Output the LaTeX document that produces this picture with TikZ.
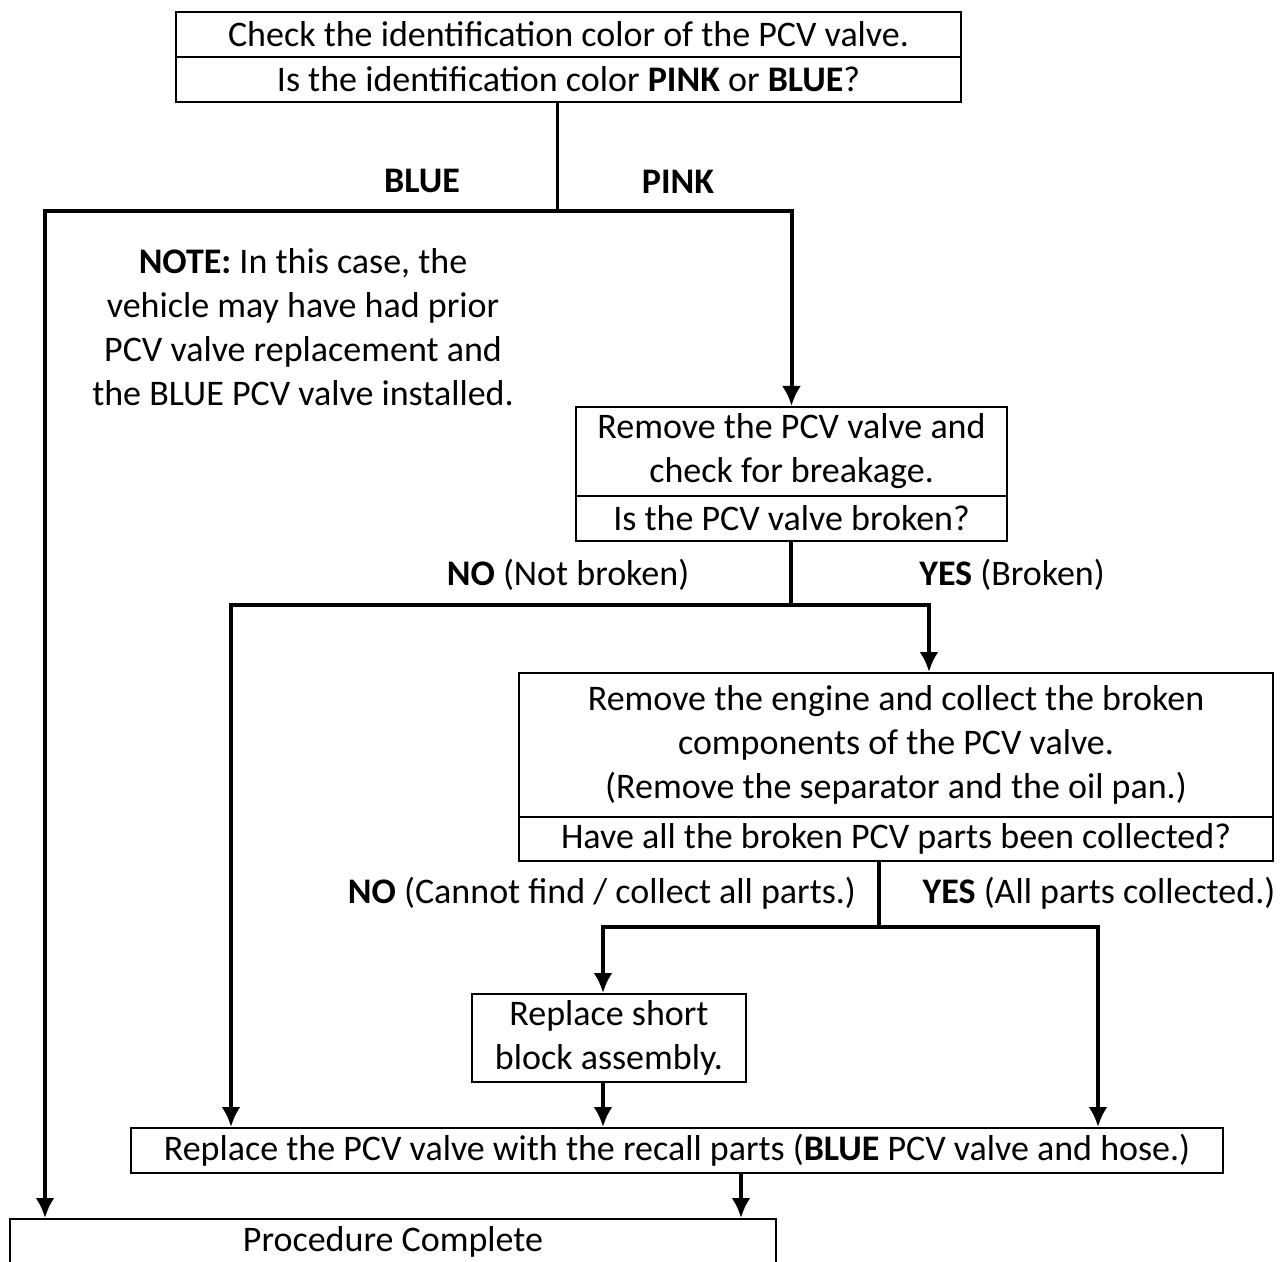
\documentclass[tikz,border=0pt]{standalone}
\usepackage{fontspec}
\setmainfont{Carlito}
\usetikzlibrary{arrows.meta}
\tikzset{
  box/.style={draw, line width=1bp, inner sep=0pt, align=center},
  flow/.style={line width=2bp},
  lbl/.style={inner sep=0pt, align=center},
}
\begin{document}
\begin{tikzpicture}[x=0.5bp,y=-0.5bp,>={Latex[length=10bp,width=9.5bp]},line join=miter,
  font=\fontsize{18bp}{22bp}\selectfont]
\clip (0,0) rectangle (1286,1262);
\useasboundingbox (0,0) rectangle (1286,1262);
%%
  % Node: check
  \node[box, minimum width=392.5bp, minimum height=22.5bp] (check) at (568.5,34.5) {Check the identification color of the PCV valve.};
  % Node: color
  \node[box, minimum width=392.5bp, minimum height=22.5bp] (color) at (568.5,79.5) {Is the identification color \textbf{PINK} or \textbf{BLUE}?};
  % Node: remove
  \node[box, minimum width=215.5bp, minimum height=44.5bp] (remove) at (791.5,451.5) {Remove the PCV valve and\\check for breakage.};
  % Node: broken
  \node[box, minimum width=215.5bp, minimum height=22.5bp] (broken) at (791.5,518.5) {Is the PCV valve broken?};
  % Node: engine
  \node[box, minimum width=377bp, minimum height=72bp] (engine) at (896,745) {Remove the engine and collect the broken\\components of the PCV valve.\\(Remove the separator and the oil pan.)};
  % Node: collected
  \node[box, minimum width=377bp, minimum height=22bp] (collected) at (896,839) {Have all the broken PCV parts been collected?};
  % Node: block
  \node[box, minimum width=137bp, minimum height=44bp] (block) at (609,1038) {Replace short\\block assembly.};
  % Node: replace
  \node[box, minimum width=546bp, minimum height=22.5bp] (replace) at (677,1150.5) {Replace the PCV valve with the recall parts (\textbf{BLUE} PCV valve and hose.)};
  % Node: done
  \node[box, minimum width=383bp, minimum height=22.5bp, anchor=north] (done) at (393,1218) {Procedure Complete};
  % Node: note
  \node[lbl] (note) at (303,327) {\textbf{NOTE:} In this case, the\\vehicle may have had prior\\PCV valve replacement and\\the BLUE PCV valve installed.};
  % Labels
  \node[lbl] (blue) at (422,181) {\textbf{BLUE}};
  \node[lbl] (pink) at (678,182) {\textbf{PINK}};
  \node[lbl] (nobrk) at (568,575) {\textbf{NO} (Not broken)};
  \node[lbl] (yesbrk) at (1012,575) {\textbf{YES} (Broken)};
  \node[lbl] (nocol) at (602,893) {\textbf{NO} (Cannot find / collect all parts.)};
  \node[lbl] (yescol) at (1099,893) {\textbf{YES} (All parts collected.)};
  % Forks
  \coordinate (fork1) at (557,211);
  \coordinate (fork2) at (791,605);
  \coordinate (fork3) at (879,927);
  % Edge: color -> remove, color -> done
  \draw[flow, line width=1.5bp] (color.south -| fork1) -- (fork1);
  \draw[flow, ->] (fork1) -- (45,211) -- (done.north -| 45,0);
  \draw[flow, ->] (fork1) -- (remove.north |- fork1) -- (remove.north);
  % Edge: broken -> engine, broken -> replace
  \draw[flow] (broken.south -| fork2) -- (fork2);
  \draw[flow, ->] (fork2) -- (231,605) -- (replace.north -| 231,0);
  \draw[flow, ->] (fork2) -- (929,605) -- (engine.north -| 929,0);
  % Edge: collected -> block, collected -> replace
  \draw[flow] (collected.south -| fork3) -- (fork3);
  \draw[flow, ->] (fork3) -- (603,927) -- (block.north -| 603,0);
  \draw[flow, ->] (fork3) -- (1098,927) -- (replace.north -| 1098,0);
  % Edge: block -> replace
  \draw[flow, ->] (block.south -| 603,0) -- (replace.north -| 603,0);
  % Edge: replace -> done
  \draw[flow, ->] (replace.south -| 741,0) -- (done.north -| 741,0);
%
\end{tikzpicture}
\end{document}
